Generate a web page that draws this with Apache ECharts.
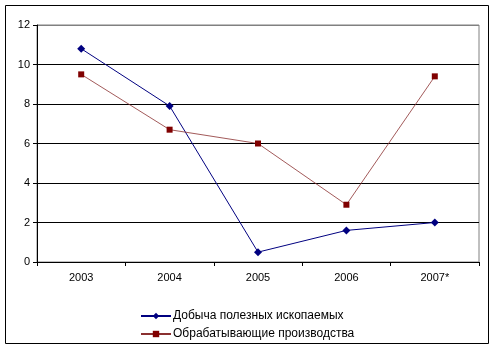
<!DOCTYPE html>
<html>
<head>
<meta charset="utf-8">
<script src="https://cdn.jsdelivr.net/npm/echarts@6/dist/echarts.min.js"></script>
<style>
  html, body { margin: 0; padding: 0; background: #fff; }
  #chart { width: 496px; height: 352px; }
</style>
</head>
<body>
<div id="chart"></div>
<script>
const years = ['2003', '2004', '2005', '2006', '2007*']
const mining = [10.8, 7.9, 0.5, 1.6, 2.0]
const manufacturing = [9.5, 6.7, 6.0, 2.9, 9.4]
const seriesNames = ['Добыча полезных ископаемых', 'Обрабатывающие производства']

const font = 'Liberation Sans, Arial, sans-serif'
const chart = echarts.init(document.getElementById('chart'))

chart.setOption({
  animation: false,
  graphic: [{
    type: 'rect',
    shape: { x: 5.5, y: 5.5, width: 483, height: 338 },
    style: { fill: 'none', stroke: '#000', lineWidth: 1 },
  }],
  grid: {
    left: 37,
    right: 17,
    top: 25,
    bottom: 90,
    show: true,
    borderColor: '#808080',
    borderWidth: 1,
  },
  legend: {
    orient: 'vertical',
    left: 135,
    top: 305,
    itemWidth: 30,
    itemHeight: 8,
    itemGap: 6,
    textStyle: { fontFamily: font, fontSize: 12, color: '#000', padding: [0, 0, 0, -3] },
    data: seriesNames,
  },
  xAxis: {
    type: 'category',
    data: years,
    boundaryGap: true,
    axisLine: { lineStyle: { color: '#000', width: 1 } },
    axisTick: { show: true, length: 4, lineStyle: { color: '#000' } },
    axisLabel: { color: '#000', fontFamily: font, fontSize: 11, margin: 10 },
    splitLine: { show: false },
  },
  yAxis: {
    type: 'value',
    min: 0,
    max: 12,
    interval: 2,
    axisLine: { show: true, lineStyle: { color: '#000', width: 1 } },
    axisTick: { show: true, length: 4, lineStyle: { color: '#000' } },
    axisLabel: { color: '#000', fontFamily: font, fontSize: 11, margin: 7 },
    splitLine: {
      show: true,
      lineStyle: { color: ['#000', '#000', '#000', '#000', '#000', '#000', '#808080'], width: 1 },
    },
  },
  series: [
    {
      name: seriesNames[0],
      type: 'line',
      data: mining,
      symbol: 'diamond',
      symbolSize: 8,
      color: '#000080',
      lineStyle: { color: '#000080', width: 1 },
      itemStyle: { color: '#000080' },
    },
    {
      name: seriesNames[1],
      type: 'line',
      data: manufacturing,
      symbol: 'rect',
      symbolSize: 6,
      color: '#800000',
      lineStyle: { color: '#8a3030', width: 0.8 },
      itemStyle: { color: '#800000' },
    },
  ],
})
</script>
</body>
</html>
